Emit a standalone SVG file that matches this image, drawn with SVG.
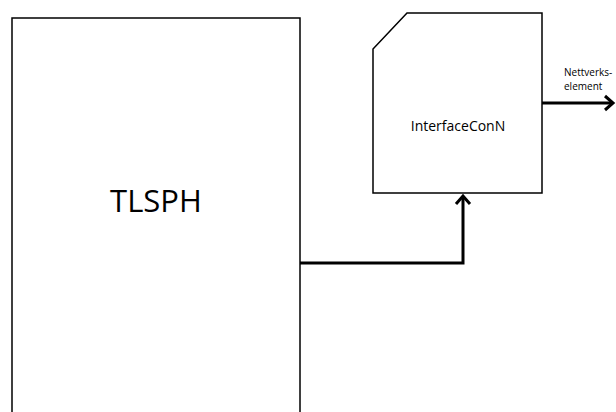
<svg xmlns="http://www.w3.org/2000/svg" width="616" height="412" viewBox="0 0 616 412">
<style>
.box{fill:#fff;stroke:#000;stroke-width:1.5}
.conn{fill:none;stroke:#000;stroke-width:3;stroke-linejoin:miter}
.head{fill:none;stroke:#000;stroke-width:3;stroke-linecap:butt;stroke-linejoin:miter}
text{font-family:"Open Sans","Liberation Sans",sans-serif;fill:#000}
</style>
<rect width="616" height="412" fill="#fff"/>
<g id="tlsph">
<rect class="box" x="12" y="18" width="288" height="420"/>
<text x="156" y="212" font-size="31" text-anchor="middle">TLSPH</text>
</g>
<g id="interfaceconn">
<path class="box" d="M407,13 L542,13 L542,193 L373,193 L373,49 Z"/>
<text x="458" y="131" font-size="14" text-anchor="middle">InterfaceConN</text>
</g>
<g id="label">
<text x="564" y="76" font-size="10">Nettverks-</text>
<text x="564" y="90" font-size="10">element</text>
</g>
<g id="connectors">
<path class="conn" d="M300,263 L463,263 L463,196"/>
<path class="head" d="M456,204 L463,196 L470,204"/>
<path class="conn" d="M542,103 L613,103"/>
<path class="head" d="M605,96 L613,103 L605,110"/>
</g>
</svg>
